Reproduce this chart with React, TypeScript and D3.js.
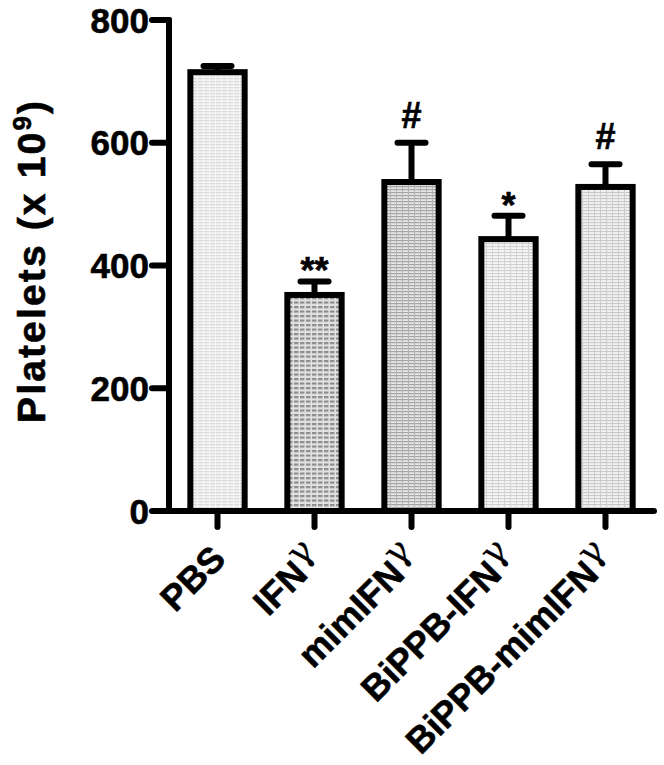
import React from "react";
import * as d3 from "d3";

// groups on the x axis (γ is drawn as a separate thin glyph)
const groups = ["PBS", "IFNγ", "mimIFNγ", "BiPPB-IFNγ", "BiPPB-mimIFNγ"];
const means = [715, 352, 536, 443, 528];
const sems = [10, 22, 64, 38, 37];
const marks = ["", "**", "#", "*", "#"];
const fills = ["pPbs", "pIfn", "pMim", "pBi", "pBiMim"];
const yTicks = [0, 200, 400, 600, 800];

const W = 664;
const H = 765;
const FONT = "'Liberation Sans', Arial, Helvetica, sans-serif";

function App() {
  const x = d3.scaleBand().domain(groups).range([169, 654]).paddingInner(0.44).paddingOuter(0.22);
  const y = d3.scaleLinear().domain([0, 800]).range([511, 20]);
  const bw = x.bandwidth();
  const y0 = y(0);

  // slightly heavier text like the original
  const heavy = { stroke: "#000", strokeWidth: 0.6, paintOrder: "stroke" } as any;

  return (
    <svg width={W} height={H} style={{ position: "absolute", left: 0, top: 0, background: "#fff" }}>
      <defs>
        {/* light horizontal lines */}
        <pattern id="pPbs" width="6" height="3" patternUnits="userSpaceOnUse">
          <rect width="6" height="3" fill="#f5f5f5" />
          <rect y="0" width="5" height="1.3" fill="#d9d9d9" />
        </pattern>
        {/* dark little dashes */}
        <pattern id="pIfn" width="6" height="4.5" patternUnits="userSpaceOnUse">
          <rect width="6" height="4.5" fill="#e2e2e2" />
          <rect x="0" y="0" width="4.5" height="2.2" fill="#8c8c8c" />
        </pattern>
        {/* medium grid */}
        <pattern id="pMim" width="6" height="3" patternUnits="userSpaceOnUse">
          <rect width="6" height="3" fill="#e6e6e6" />
          <rect y="0" width="6" height="1.2" fill="#a4a4a4" />
          <rect x="0" width="1" height="3" fill="#b4b4b4" />
        </pattern>
        {/* light grid */}
        <pattern id="pBi" width="6" height="3" patternUnits="userSpaceOnUse">
          <rect width="6" height="3" fill="#f6f6f6" />
          <rect y="0" width="6" height="1.1" fill="#cfcfcf" />
          <rect x="0" width="1" height="3" fill="#d4d4d4" />
        </pattern>
        <pattern id="pBiMim" width="6" height="3" patternUnits="userSpaceOnUse">
          <rect width="6" height="3" fill="#f2f2f2" />
          <rect y="0" width="6" height="1.1" fill="#c8c8c8" />
          <rect x="0" width="1" height="3" fill="#cdcdcd" />
        </pattern>
      </defs>

      {/* bars */}
      {groups.map((g, i) => (
        <rect
          key={g}
          x={x(g)}
          y={y(means[i])}
          width={bw}
          height={y0 - y(means[i])}
          fill={`url(#${fills[i]})`}
          stroke="#000"
          strokeWidth={6}
        />
      ))}

      {/* error bars (upper only) */}
      {groups.map((g, i) => {
        const cx = (x(g) as number) + bw / 2;
        const top = y(means[i] + sems[i]);
        return (
          <g key={"e" + g}>
            <line x1={cx} x2={cx} y1={y(means[i])} y2={top} stroke="#000" strokeWidth={6} />
            <line x1={cx - 14} x2={cx + 14} y1={top} y2={top} stroke="#000" strokeWidth={6} strokeLinecap="round" />
          </g>
        );
      })}

      {/* significance marks */}
      {groups.map((g, i) => {
        if (!marks[i]) return null;
        const cx = (x(g) as number) + bw / 2;
        const top = y(means[i] + sems[i]);
        const off = marks[i].includes("#") ? -15 : 2;
        return (
          <text key={"m" + g} x={cx} y={top + off} textAnchor="middle" fontFamily={FONT} fontWeight="bold" fontSize={36} {...heavy}>
            {marks[i]}
          </text>
        );
      })}

      {/* y axis */}
      <line x1={169} x2={169} y1={y0} y2={y(800)} stroke="#000" strokeWidth={6} strokeLinecap="round" />
      {yTicks.map((t) => (
        <g key={"yt" + t}>
          <line x1={152} x2={169} y1={y(t)} y2={y(t)} stroke="#000" strokeWidth={6} strokeLinecap="round" />
          <text x={149} y={y(t) + 12.5} textAnchor="end" fontFamily={FONT} fontWeight="bold" fontSize={35} {...heavy}>
            {t}
          </text>
        </g>
      ))}

      {/* x axis */}
      <line x1={169} x2={654} y1={y0} y2={y0} stroke="#000" strokeWidth={6} strokeLinecap="round" />
      {groups.map((g) => {
        const cx = (x(g) as number) + bw / 2;
        const base = g.replace("γ", "");
        const hasG = g.includes("γ");
        return (
          <g key={"xt" + g}>
            <line x1={cx} x2={cx} y1={y0} y2={y0 + 16} stroke="#000" strokeWidth={6} strokeLinecap="round" />
            <text
              transform={`translate(${cx + 10},${y0 + 50}) rotate(-45)`}
              textAnchor="end"
              fontFamily={FONT}
              fontWeight="bold"
              fontSize={36}
              {...heavy}
            >
              {base}
              {hasG && (
                <tspan fontWeight="normal" fontSize={36} dy={-12} strokeWidth={0.2} fontFamily="'DejaVu Serif', serif">
                  γ
                </tspan>
              )}
            </text>
          </g>
        );
      })}

      {/* y title */}
      <text
        transform={`translate(45,262) rotate(-90)`}
        textAnchor="middle"
        fontFamily={FONT}
        fontWeight="bold"
        fontSize={39}
        textLength={322}
        lengthAdjust="spacing"
        {...heavy}
      >
        Platelets (x 10<tspan fontSize={26} dy={-14}>9</tspan><tspan dy={14}>)</tspan>
      </text>
    </svg>
  );
}

export default App;
